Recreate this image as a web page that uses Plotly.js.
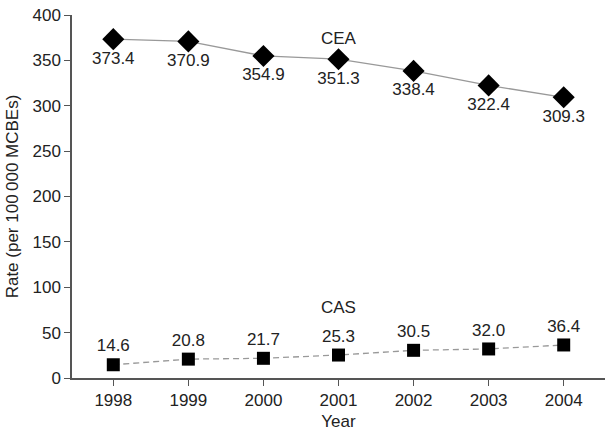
<!DOCTYPE html>
<html>
<head>
<meta charset="utf-8">
<script src="https://cdn.plot.ly/plotly-3.0.1.min.js"></script>
<style>body{margin:0;background:#fff}#draw{width:614px;height:436px}</style>
</head>
<body>
<div id="draw"></div>
<script>
const years = [1998, 1999, 2000, 2001, 2002, 2003, 2004]
const cea = [373.4, 370.9, 354.9, 351.3, 338.4, 322.4, 309.3]
const cas = [14.6, 20.8, 21.7, 25.3, 30.5, 32.0, 36.4]

const font = {family: 'Liberation Sans Narrow, Liberation Sans, Arial, sans-serif', size: 17, color: '#222'}

const traces = [
  {
    x: years, y: cea,
    mode: 'lines+markers+text',
    text: cea.map(v => v.toFixed(1)),
    textposition: 'bottom center',
    textfont: font,
    line: {color: '#999', width: 1.3},
    marker: {symbol: 'diamond', size: 17, color: '#000'},
    cliponaxis: false,
    type: 'scatter'
  },
  {
    x: years, y: cas,
    mode: 'lines+markers+text',
    text: cas.map(v => v.toFixed(1)),
    textposition: 'top center',
    textfont: font,
    line: {color: '#999', width: 1.3, dash: '6px,4px'},
    marker: {symbol: 'square', size: 13, color: '#000'},
    cliponaxis: false,
    type: 'scatter'
  }
]

const layout = {
  width: 614, height: 436,
  margin: {l: 72, r: 9, t: 15, b: 58},
  showlegend: false,
  font: font,
  paper_bgcolor: '#fff', plot_bgcolor: '#fff',
  xaxis: {
    range: [1997.45, 2004.55],
    tickvals: years,
    ticks: 'outside', ticklen: 6, tickcolor: '#555',
    showline: true, linecolor: '#555', linewidth: 1.5,
    showgrid: false, zeroline: false,
    title: {text: 'Year', font: font, standoff: 6}
  },
  yaxis: {
    range: [0, 400],
    dtick: 50,
    ticks: 'outside', ticklen: 6, tickcolor: '#555',
    showline: true, linecolor: '#555', linewidth: 1.5,
    showgrid: false, zeroline: false,
    title: {text: 'Rate (per 100\u2009000 MCBEs)', font: font, standoff: 10}
  },
  annotations: [
    {x: 2001, y: 374, text: 'CEA', showarrow: false, font: font},
    {x: 2001, y: 78, text: 'CAS', showarrow: false, font: font}
  ]
}

Plotly.newPlot('draw', traces, layout, {displayModeBar: false})
</script>
</body>
</html>
